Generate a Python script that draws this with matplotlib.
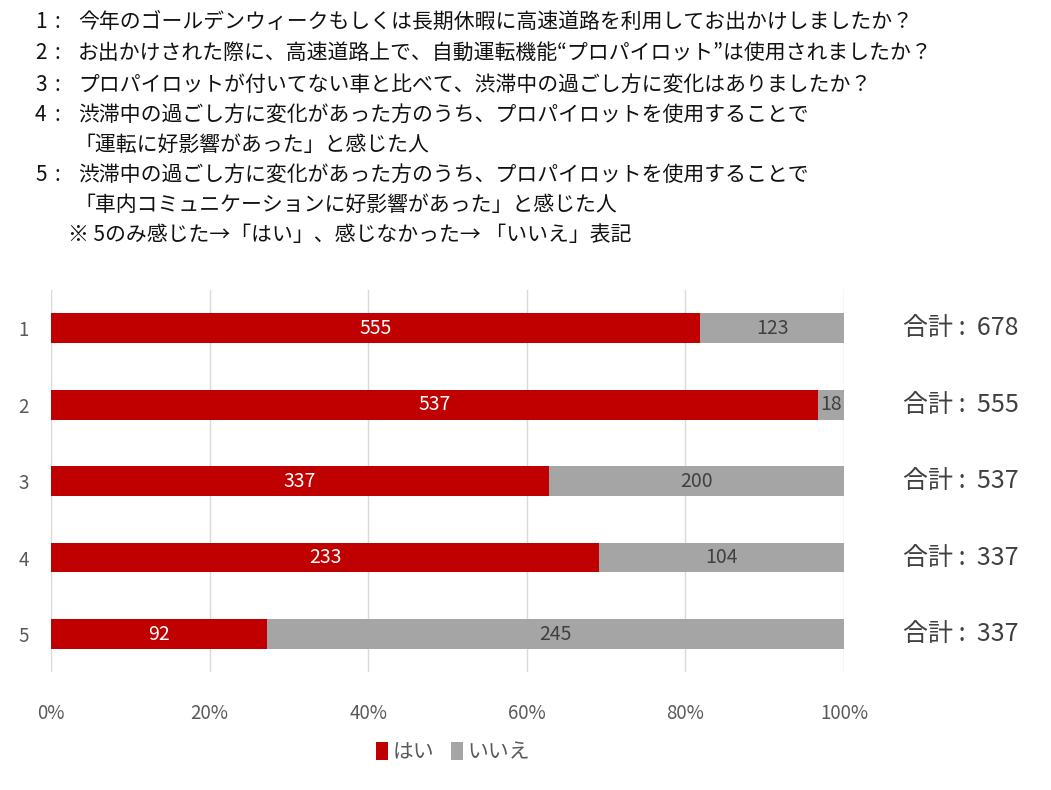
import matplotlib
matplotlib.use("Agg")
import matplotlib.pyplot as plt
import numpy as np
from matplotlib.patches import Patch

plt.rcParams['font.family'] = ['Noto Sans CJK JP', 'DejaVu Sans']

categories = ["1", "2", "3", "4", "5"]
yes_counts = [555, 537, 337, 233, 92]
no_counts = [123, 18, 200, 104, 245]
series_names = ["はい", "いいえ"]
x_ticks = [0, 0.2, 0.4, 0.6, 0.8, 1.0]
x_tick_labels = ["0%", "20%", "40%", "60%", "80%", "100%"]
question_nums = ["1", "2", "3", "4", "", "5", "", ""]
question_lines = [
    "今年のゴールデンウィークもしくは長期休暇に高速道路を利用してお出かけしましたか？",
    "お出かけされた際に、高速道路上で、自動運転機能“プロパイロット”は使用されましたか？",
    "プロパイロットが付いてない車と比べて、渋滞中の過ごし方に変化はありましたか？",
    "渋滞中の過ごし方に変化があった方のうち、プロパイロットを使用することで",
    "「運転に好影響があった」と感じた人",
    "渋滞中の過ごし方に変化があった方のうち、プロパイロットを使用することで",
    "「車内コミュニケーションに好影響があった」と感じた人",
    "※ 5のみ感じた→「はい」、感じなかった→ 「いいえ」表記",
]

RED = "#C00000"
GRAY = "#A5A5A5"

fig = plt.figure(figsize=(10.51, 7.9), dpi=100)
ax = fig.add_axes([0.0485, 0.149, 0.7545, 0.484])

yes = np.array(yes_counts, dtype=float)
no = np.array(no_counts, dtype=float)
tot = yes + no
yf = yes / tot
nf = no / tot
ypos = np.arange(len(categories))

ax.barh(ypos, yf, height=0.39, color=RED, zorder=2)
ax.barh(ypos, nf, left=yf, height=0.39, color=GRAY, zorder=2)

for i in range(len(categories)):
    ax.text(yf[i] / 2, ypos[i], str(yes_counts[i]), ha="center", va="center",
            color="white", fontsize=14, zorder=3)
    ax.text(yf[i] + nf[i] / 2, ypos[i], str(no_counts[i]), ha="center", va="center",
            color="#404040", fontsize=14, zorder=3)
    ax.text(1.075, ypos[i], "合計 :  " + str(int(tot[i])), ha="left", va="center",
            color="#404040", fontsize=18, clip_on=False)

ax.set_xlim(0, 1)
ax.set_ylim(len(categories) - 0.5, -0.5)
ax.set_yticks(ypos)
ax.set_yticklabels(categories)
ax.set_xticks(x_ticks)
ax.set_xticklabels(x_tick_labels)
ax.tick_params(axis="both", length=0, colors="#595959", labelsize=13.5)
ax.tick_params(axis="x", pad=22)
ax.tick_params(axis="y", pad=16)
for s in ax.spines.values():
    s.set_visible(False)
ax.grid(axis="x", color="#D9D9D9", linewidth=1, zorder=0)
ax.set_axisbelow(True)

handles = [Patch(facecolor=RED), Patch(facecolor=GRAY)]
fig.legend(handles, series_names, loc="center", bbox_to_anchor=(0.431, 0.048),
           ncol=2, frameon=False, fontsize=15, handlelength=0.6, handleheight=0.9,
           handletextpad=0.2, columnspacing=0.8, labelcolor="#595959")

line_y = [22, 53, 85, 115, 145, 175, 205, 235]
body_x = [78, 78, 78, 78, 74, 78, 74, 68]
for n, t, yy, bx in zip(question_nums, question_lines, line_y, body_x):
    if n:
        fig.text(35 / 1051, 1 - yy / 790, n, ha="left", va="center", fontsize=15, color="#111111")
        fig.text(55 / 1051, 1 - yy / 790, ":", ha="left", va="center", fontsize=15, color="#111111")
    fig.text(bx / 1051, 1 - yy / 790, t, ha="left", va="center", fontsize=15, color="#111111")

fig.savefig("out.png", dpi=100)
